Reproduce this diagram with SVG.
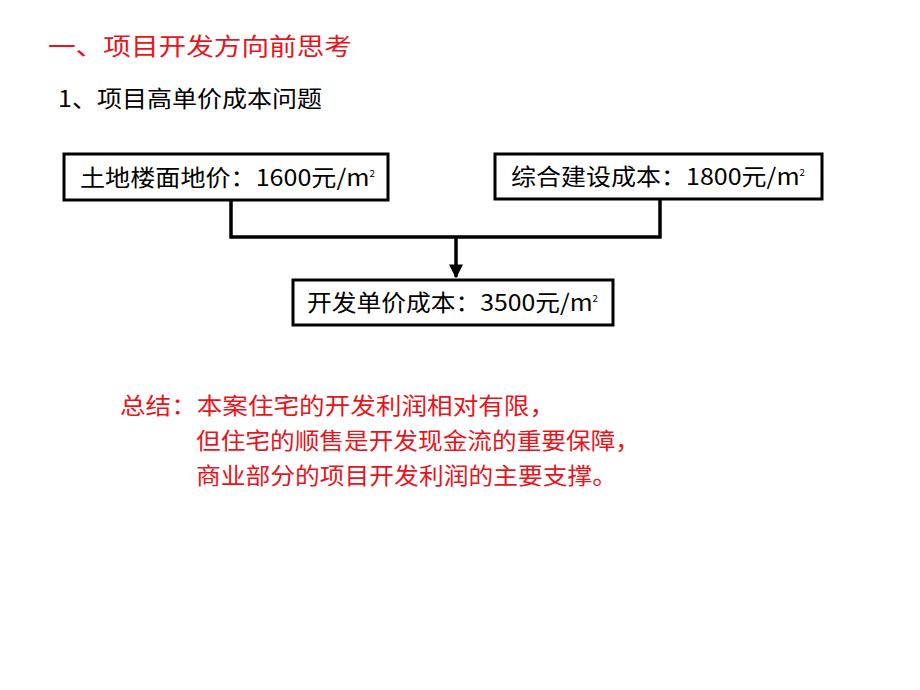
<svg xmlns="http://www.w3.org/2000/svg" width="920" height="690" viewBox="0 0 920 690">
<style>
text{font-family:"Noto Sans CJK SC","Liberation Sans",sans-serif}
.box{fill:#fff;stroke:#000;stroke-width:3}
.bt{font-size:23px;fill:#000}
.red{fill:#e8141b}
.ln{fill:none;stroke:#000;stroke-width:3.5}
</style>
<defs>
<marker id="a2" viewBox="0 0 10 10" refX="9" refY="5" markerWidth="14" markerHeight="14" orient="auto" markerUnits="userSpaceOnUse"><path d="M0,0 L10,5 L0,10 Z" fill="#000"/></marker></defs>
<rect width="920" height="690" fill="#fff"/>
<text x="48" y="55" font-size="24" class="red" textLength="304" lengthAdjust="spacingAndGlyphs">一、项目开发方向前思考</text>
<text x="58" y="107" font-size="23" fill="#000" textLength="264" lengthAdjust="spacingAndGlyphs">1、项目高单价成本问题</text>
<g id="connectors">
<polyline class="ln" points="231,200 231,237 660,237 660,199"/>
<line class="ln" x1="456" y1="237" x2="456" y2="277" marker-end="url(#a2)"/>
</g>
<g id="n1"><rect class="box" x="64" y="154" width="324" height="46"/><text class="bt" x="80" y="186" textLength="295" lengthAdjust="spacingAndGlyphs">土地楼面地价：1600元/m<tspan font-size="9" dy="-9">2</tspan></text></g>
<g id="n2"><rect class="box" x="495" y="154" width="327" height="45"/><text class="bt" x="511" y="185" textLength="294" lengthAdjust="spacingAndGlyphs">综合建设成本：1800元/m<tspan font-size="9" dy="-9">2</tspan></text></g>
<g id="n3"><rect class="box" x="293" y="280" width="320" height="45"/><text class="bt" x="307" y="311" textLength="291" lengthAdjust="spacingAndGlyphs">开发单价成本：3500元/m<tspan font-size="9" dy="-9">2</tspan></text></g>
<g font-size="23" class="red">
<text x="120" y="414" class="red" textLength="435" lengthAdjust="spacingAndGlyphs">总结：本案住宅的开发利润相对有限，</text>
<text x="196" y="449" class="red" textLength="444" lengthAdjust="spacingAndGlyphs">但住宅的顺售是开发现金流的重要保障，</text>
<text x="196" y="484" class="red" textLength="421" lengthAdjust="spacingAndGlyphs">商业部分的项目开发利润的主要支撑。</text>
</g>
</svg>
